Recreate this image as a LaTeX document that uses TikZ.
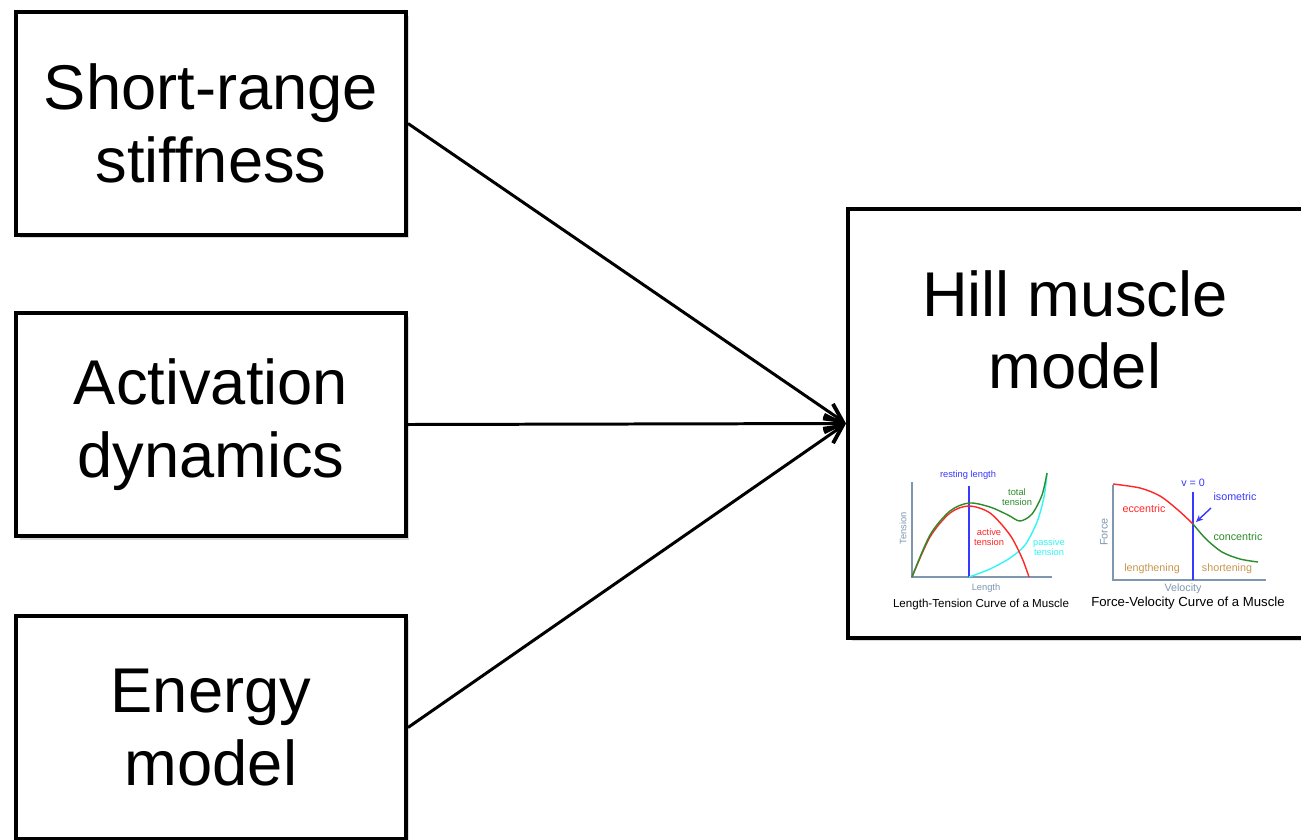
\documentclass[tikz,border=0pt]{standalone}
\usepackage{fontspec}
\setmainfont{Liberation Sans}
\usetikzlibrary{arrows.meta,shadows}
\definecolor{axisgray}{HTML}{7F96B0}
\definecolor{actred}{HTML}{FF2626}
\definecolor{totgreen}{HTML}{2A8C2A}
\definecolor{pascyan}{HTML}{33F5F5}
\definecolor{restblue}{HTML}{3838FF}
\definecolor{tanlabel}{HTML}{C8964E}

\begin{document}
\begin{tikzpicture}[
  x=0.02cm,y=-0.02cm,
  >={Straight Barb[length=10pt,width=10pt,line width=2.2pt]},
  box/.style={draw=black,line width=2.3pt,fill=white,align=center,
    minimum width=7.8cm,minimum height=4.46cm,
    font=\fontsize{36}{41.4}\selectfont,
    drop shadow={shadow xshift=2pt,shadow yshift=-2pt,opacity=0.3}},
  link/.style={->,line width=1.7pt},
  axis/.style={draw=axisgray,line width=0.9pt},
  curve/.style={line width=0.8pt},
  tiny/.style={font=\fontsize{5.3}{5.8}\selectfont,align=center,inner sep=0pt},
  small/.style={font=\fontsize{6.1}{7}\selectfont,align=center,inner sep=0pt}
]
  \useasboundingbox (0,0) rectangle (1301,839);

  % input blocks
  \node[box] (srs) at (211,123.5) {Short-range\\stiffness};
  \node[box] (act) at (211,424.5) {Activation\\dynamics};
  \node[box] (nrg) at (211,727.5) {Energy\\model};

  % muscle model block
  \node[box,minimum width=9.2cm,minimum height=8.58cm] (hill) at (1078,423.5) {};
  \node[font=\fontsize{36}{41.4}\selectfont,align=center] (hilltxt) at (1075,330)
    {Hill muscle\\model};

  \draw[link] (srs.east) -- (hill.west);
  \draw[link] (act.east) -- (hill.west);
  \draw[link] (nrg.east) -- (hill.west);

  % length-tension curve
  \draw[axis] (912,482) -- (912,577) -- (1052,577);
  \draw[restblue,line width=1pt] (969,486) -- (969,577);
  \draw[curve,pascyan] plot[smooth] coordinates
    {(969,577) (990,569) (1010,558) (1025,545) (1037,522) (1044,497) (1047,473)};
  \draw[curve,actred] plot[smooth] coordinates
    {(912,577) (930,537) (950,513) (969,506) (990,513) (1010,535) (1022,558) (1029,577)};
  \draw[curve,totgreen] plot[smooth] coordinates
    {(912,577) (930,535) (950,511) (969,503) (990,507) (1008,515) (1020,521) (1032,514) (1042,495) (1047,473)};
  \node[tiny,text=restblue] (rest) at (968,475) {resting length};
  \node[tiny,text=totgreen] (total) at (1017,497) {total\\tension};
  \node[tiny,text=actred] (active) at (989,537) {active\\tension};
  \node[tiny,text=pascyan] (passive) at (1049,547) {passive\\tension};
  \node[tiny,text=axisgray,rotate=90] (tens) at (903,528) {Tension};
  \node[tiny,text=axisgray] (len) at (986,588) {Length};
  \node[font=\fontsize{6.6}{7}\selectfont,inner sep=0pt] (lttitle) at (981,604)
    {Length-Tension Curve of a Muscle};

  % force-velocity curve
  \draw[axis] (1113,485) -- (1113,580) -- (1266,580);
  \draw[restblue,line width=1pt] (1193,492) -- (1193,580);
  \draw[curve,actred] plot[smooth] coordinates
    {(1113,484) (1140,488) (1160,496) (1178,510) (1193,524)};
  \draw[curve,totgreen] plot[smooth] coordinates
    {(1193,524) (1206,539) (1222,552) (1240,559) (1258,562)};
  \node[small,text=restblue] (vzero) at (1193,483) {v = 0};
  \node[small,text=restblue] (iso) at (1235,497) {isometric};
  \draw[restblue,line width=0.8pt,-{Stealth[length=4pt,width=3.5pt]}]
    (1211,508) -- (1196,522);
  \node[small,text=actred] (ecc) at (1144,509) {eccentric};
  \node[small,text=totgreen] (conc) at (1238,537) {concentric};
  \node[small,text=tanlabel] (lengthen) at (1152,569) {lengthening};
  \node[small,text=tanlabel] (shorten) at (1227,569) {shortening};
  \node[small,text=axisgray,rotate=90] (force) at (1104,532) {Force};
  \node[small,text=axisgray] (vel) at (1183,589) {Velocity};
  \node[font=\fontsize{7.5}{8}\selectfont,inner sep=0pt] (fvtitle) at (1188,603)
    {Force-Velocity Curve of a Muscle};
\end{tikzpicture}
\end{document}
